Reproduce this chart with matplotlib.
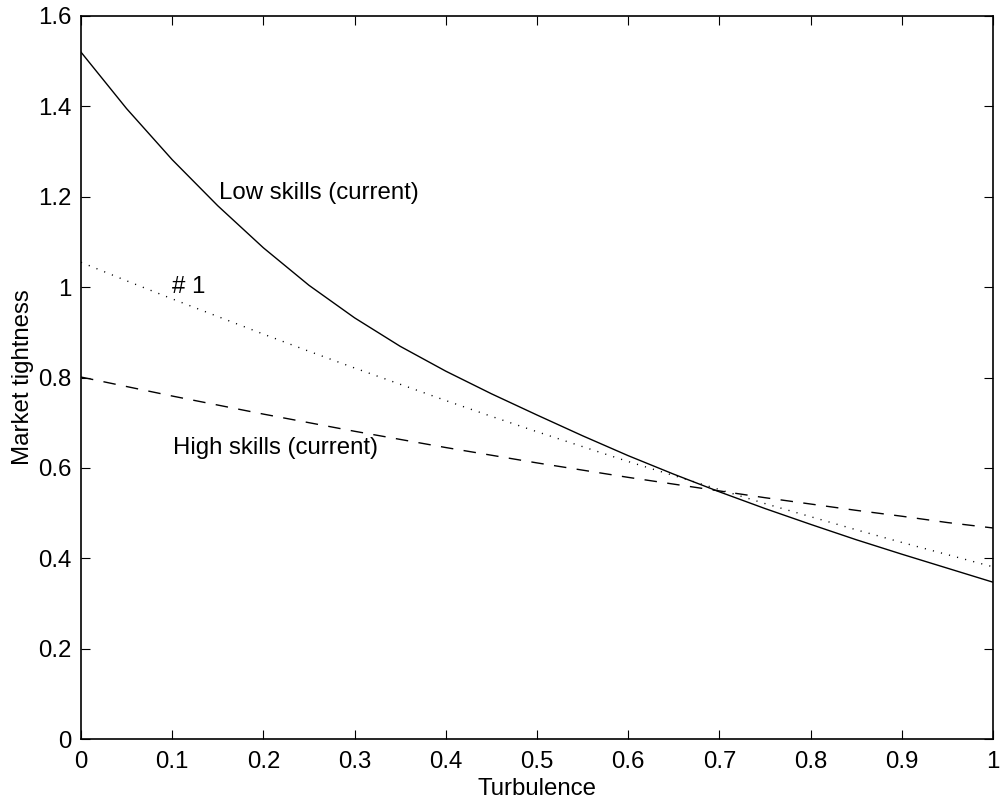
import matplotlib
matplotlib.use("Agg")
import matplotlib.pyplot as plt
import numpy as np

# Turbulence grid and market tightness for each skill group
turbulence = [0.00, 0.05, 0.10, 0.15, 0.20, 0.25, 0.30, 0.35, 0.40, 0.45, 0.50,
              0.55, 0.60, 0.65, 0.70, 0.75, 0.80, 0.85, 0.90, 0.95, 1.00]
low_skills = [1.520, 1.395, 1.282, 1.180, 1.087, 1.004, 0.932, 0.869, 0.814, 0.764, 0.717,
              0.671, 0.627, 0.586, 0.547, 0.510, 0.475, 0.441, 0.409, 0.378, 0.347]
scenario_1 = [1.055, 1.014, 0.974, 0.935, 0.896, 0.858, 0.821, 0.785, 0.749, 0.714, 0.680,
              0.647, 0.614, 0.583, 0.552, 0.521, 0.492, 0.463, 0.435, 0.408, 0.381]
high_skills = [0.801, 0.780, 0.759, 0.739, 0.719, 0.700, 0.681, 0.663, 0.645, 0.628, 0.611,
               0.595, 0.579, 0.564, 0.549, 0.534, 0.520, 0.506, 0.493, 0.479, 0.467]

x_ticks = np.round(np.arange(0, 1.01, 0.1), 1)
y_ticks = np.round(np.arange(0, 1.61, 0.2), 1)
x_ticklabels = ["0", "0.1", "0.2", "0.3", "0.4", "0.5", "0.6", "0.7", "0.8", "0.9", "1"]
y_ticklabels = ["0", "0.2", "0.4", "0.6", "0.8", "1", "1.2", "1.4", "1.6"]

plt.rcParams["font.family"] = ["Liberation Sans", "DejaVu Sans"]
fs = 17.3

fig = plt.figure(figsize=(10.05, 8.02), dpi=100)
ax = fig.add_axes([81 / 1005, 63 / 802, 912 / 1005, 723 / 802])

ax.plot(turbulence, low_skills, color="black", lw=1.0, ls="-")
ax.plot(turbulence, scenario_1, color="black", lw=1.0, ls=(0, (0.8, 5.2)))
ax.plot(turbulence, high_skills, color="black", lw=1.0, ls=(0, (9, 7.5)))

ax.text(0.151, 1.195, "Low skills (current)", fontsize=fs, va="baseline", ha="left")
ax.text(0.0998, 0.987, "# 1", fontsize=fs, va="baseline", ha="left")
ax.text(0.1005, 0.631, "High skills (current)", fontsize=fs, va="baseline", ha="left")

ax.set_xlim(0, 1)
ax.set_ylim(0, 1.6)
ax.set_xticks(x_ticks)
ax.set_xticklabels(x_ticklabels)
ax.set_yticks(y_ticks)
ax.set_yticklabels(y_ticklabels)
ax.tick_params(direction="in", length=6.5, width=0.8, labelsize=fs,
               top=True, right=True)
ax.tick_params(axis="x", pad=9)
ax.tick_params(axis="y", pad=7)
for s in ax.spines.values():
    s.set_linewidth(1.2)

ax.set_xlabel("Turbulence", fontsize=fs, labelpad=3)
ax.set_ylabel("Market tightness", fontsize=fs, labelpad=3)

fig.savefig("out.png", dpi=100)
